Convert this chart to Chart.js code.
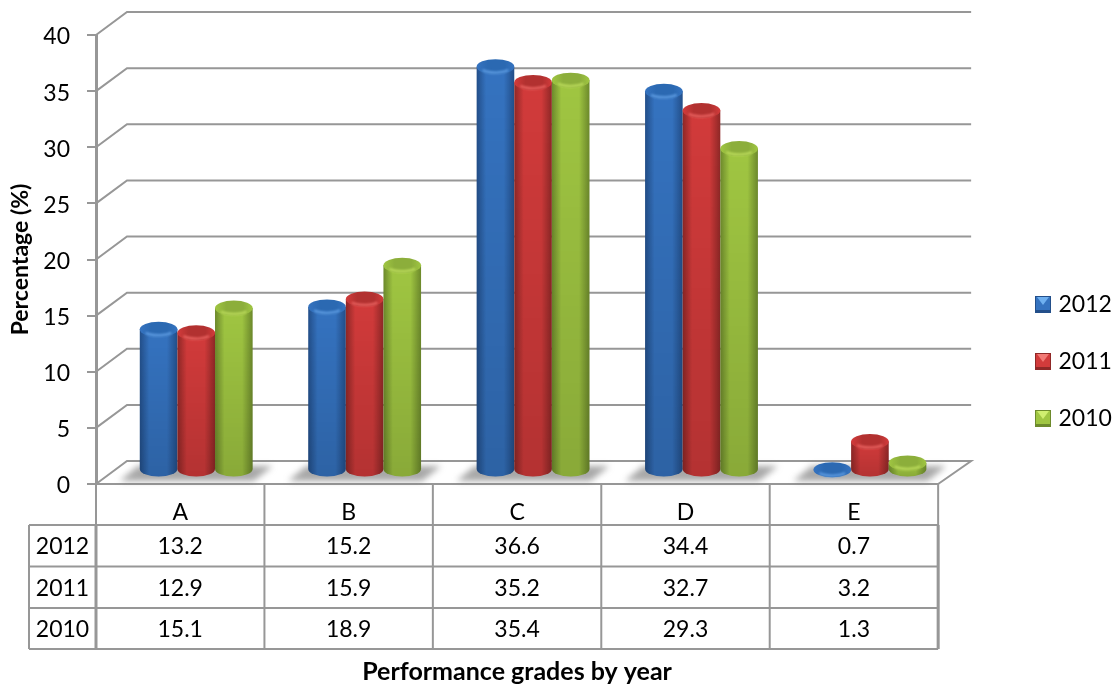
<!DOCTYPE html>
<html>
<head>
<meta charset="utf-8">
<script src="https://cdn.jsdelivr.net/npm/chart.js@4"></script>
<style>
  html, body { margin: 0; padding: 0; background: #fff; }
  #wrap { width: 1113px; height: 684px; }
</style>
</head>
<body>
<div id="wrap"><canvas id="chart" width="1113" height="684"></canvas></div>
<script>
const categories = ["A", "B", "C", "D", "E"];
const years = ["2012", "2011", "2010"];
const values2012 = [13.2, 15.2, 36.6, 34.4, 0.7];
const values2011 = [12.9, 15.9, 35.2, 32.7, 3.2];
const values2010 = [15.1, 18.9, 35.4, 29.3, 1.3];
const tableRows = [values2012, values2011, values2010];

// body edge / body middle / cap / cap rim / swatch light
const palette = [
  { edge: "#234f8a", mid: "#3573c0", cap: "#2b69b2", rim: "#5c9ae0", light: "#6fb0f0" },
  { edge: "#8f2827", mid: "#d23b3b", cap: "#b23130", rim: "#e8605e", light: "#f27a76" },
  { edge: "#6d8a2c", mid: "#a0c642", cap: "#8cae3b", rim: "#bada5a", light: "#d0ee70" },
];

const FONT = "Lato";
const GRID = "#979797";
const DEPTH_X = 31;
const DEPTH_Y = 23;
const BAR_DX = 16;
const BAR_DY = 14;
const CAP_RY = 7.5;
const TABLE_LEFT = 29;
const TABLE_ROWS_Y = [525, 566.5, 608, 649];

function makeSwatch(c) {
  const s = document.createElement("canvas");
  s.width = 16;
  s.height = 17;
  const g = s.getContext("2d");
  g.fillStyle = c.edge;
  g.fillRect(0, 0, 16, 17);
  g.fillStyle = c.mid;
  g.fillRect(1, 1, 14, 13);
  g.fillStyle = c.light;
  g.beginPath();
  g.moveTo(2, 1);
  g.lineTo(14, 1);
  g.lineTo(8, 9);
  g.closePath();
  g.fill();
  return s;
}
const swatches = palette.map(makeSwatch);

function line(ctx, x1, y1, x2, y2) {
  ctx.beginPath();
  ctx.moveTo(x1, y1);
  ctx.lineTo(x2, y2);
  ctx.stroke();
}

function drawWalls(chart) {
  const ctx = chart.ctx;
  const y = chart.scales.y;
  const area = chart.chartArea;
  ctx.save();
  ctx.strokeStyle = GRID;
  ctx.lineWidth = 2;
  y.ticks.forEach((t) => {
    const py = y.getPixelForValue(t.value);
    ctx.beginPath();
    ctx.moveTo(area.left, py);
    ctx.lineTo(area.left + DEPTH_X, py - DEPTH_Y);
    ctx.lineTo(area.right + DEPTH_X + 2, py - DEPTH_Y);
    if (t.value === 0) ctx.lineTo(area.right, py);
    ctx.stroke();
  });
  ctx.restore();
}

function drawShadows(chart) {
  const ctx = chart.ctx;
  const first = chart.getDatasetMeta(0).data;
  const last = chart.getDatasetMeta(2).data;
  const base = chart.scales.y.getPixelForValue(0);
  ctx.save();
  ctx.filter = "blur(3px)";
  ctx.fillStyle = "rgba(110,110,110,0.6)";
  first.forEach((el, i) => {
    const l = el.x + BAR_DX - el.width / 2;
    const r = last[i].x + BAR_DX + last[i].width / 2;
    ctx.beginPath();
    ctx.moveTo(l - 20, base - 3);
    ctx.lineTo(l - 2, base - 18);
    ctx.lineTo(r + 20, base - 18);
    ctx.lineTo(r + 1, base - 3);
    ctx.closePath();
    ctx.fill();
  });
  ctx.restore();
}

function drawCylinder(ctx, el, c) {
  const cx = el.x + BAR_DX;
  const w = el.width / 2;
  const top = el.y - BAR_DY + CAP_RY;
  const bottom = el.base - BAR_DY;

  ctx.save();
  ctx.filter = "blur(0.6px)";
  const g = ctx.createLinearGradient(cx - w, 0, cx + w, 0);
  g.addColorStop(0, c.edge);
  g.addColorStop(0.25, c.mid);
  g.addColorStop(0.72, c.mid);
  g.addColorStop(1, c.edge);
  ctx.fillStyle = g;
  ctx.beginPath();
  ctx.moveTo(cx - w, top);
  ctx.lineTo(cx - w, bottom);
  ctx.ellipse(cx, bottom, w, CAP_RY, 0, Math.PI, 0, true);
  ctx.lineTo(cx + w, top);
  ctx.closePath();
  ctx.fill();

  // darker towards the floor
  const shade = ctx.createLinearGradient(0, top, 0, bottom + CAP_RY);
  shade.addColorStop(0, "rgba(0,0,0,0)");
  shade.addColorStop(1, "rgba(0,0,0,0.14)");
  ctx.fillStyle = shade;
  ctx.fill();

  const capFill = ctx.createLinearGradient(cx - w, 0, cx + w, 0);
  capFill.addColorStop(0, c.mid);
  capFill.addColorStop(0.3, c.cap);
  capFill.addColorStop(0.75, c.cap);
  capFill.addColorStop(1, c.mid);
  ctx.fillStyle = capFill;
  ctx.beginPath();
  ctx.ellipse(cx, top, w, CAP_RY, 0, 0, Math.PI * 2);
  ctx.fill();

  // soft highlight along the front of the cap
  ctx.filter = "blur(1.2px)";
  ctx.strokeStyle = c.rim;
  ctx.lineWidth = 2.5;
  ctx.beginPath();
  ctx.ellipse(cx, top, w - 3, CAP_RY - 1.5, 0, Math.PI * 0.2, Math.PI * 0.8);
  ctx.stroke();
  ctx.restore();
}

function drawTable(chart) {
  const ctx = chart.ctx;
  const x = chart.scales.x;
  const area = chart.chartArea;
  const colW = x.width / categories.length;
  ctx.save();
  ctx.strokeStyle = GRID;
  ctx.lineWidth = 2;
  TABLE_ROWS_Y.forEach((ry) => line(ctx, TABLE_LEFT, ry, area.right, ry));
  line(ctx, TABLE_LEFT, TABLE_ROWS_Y[0], TABLE_LEFT, TABLE_ROWS_Y[3]);
  categories.forEach((c, i) => {
    const lx = area.left + i * colW;
    line(ctx, lx, area.bottom, lx, TABLE_ROWS_Y[3]);
  });
  line(ctx, area.right, area.bottom, area.right, TABLE_ROWS_Y[3]);
  ctx.lineWidth = 3;
  line(ctx, area.left, TABLE_ROWS_Y[0], area.left, TABLE_ROWS_Y[3]);
  line(ctx, area.right, TABLE_ROWS_Y[0], area.right, TABLE_ROWS_Y[3]);

  ctx.fillStyle = "#000";
  ctx.font = "23px " + FONT;
  ctx.textAlign = "center";
  ctx.textBaseline = "middle";
  tableRows.forEach((row, r) => {
    const cy = (TABLE_ROWS_Y[r] + TABLE_ROWS_Y[r + 1]) / 2 + 1;
    ctx.fillText(years[r], (TABLE_LEFT + area.left) / 2, cy);
    row.forEach((v, i) => {
      ctx.fillText(v.toFixed(1), x.getPixelForValue(i), cy);
    });
  });
  ctx.restore();
}

const cylinders = {
  id: "cylinders",
  afterLayout(chart) {
    // legend sits lower and closer to the edge than the default slot
    const legend = chart.legend;
    legend.left = 1005;
    legend.top = 259;
    legend.right = 1113;
    legend.bottom = 684;
  },
  beforeDatasetsDraw(chart) {
    drawWalls(chart);
    drawShadows(chart);
    chart.data.datasets.forEach((d, i) => {
      chart.getDatasetMeta(i).data.forEach((el) => drawCylinder(chart.ctx, el, palette[i]));
    });
    drawTable(chart);
    return false;
  },
};

new Chart(document.getElementById("chart"), {
  type: "bar",
  data: {
    labels: categories,
    datasets: [
      { label: years[0], data: values2012, backgroundColor: palette[0].mid },
      { label: years[1], data: values2011, backgroundColor: palette[1].mid },
      { label: years[2], data: values2010, backgroundColor: palette[2].mid },
    ],
  },
  options: {
    responsive: false,
    animation: false,
    layout: { padding: { top: 35, right: 58, left: 0, bottom: 0 } },
    datasets: { bar: { barPercentage: 1, categoryPercentage: 0.67 } },
    plugins: {
      tooltip: { enabled: false },
      legend: {
        position: "right",
        align: "start",
        labels: {
          color: "#000",
          font: { family: FONT, size: 23 },
          padding: 34,
          usePointStyle: true,
          pointStyleWidth: 8,
          generateLabels: (chart) =>
            chart.data.datasets.map((d, i) => ({
              text: d.label,
              pointStyle: swatches[i],
              fillStyle: d.backgroundColor,
              lineWidth: 0,
              datasetIndex: i,
            })),
        },
      },
    },
    scales: {
      x: {
        afterFit: (s) => { s.height = 200; },
        grid: { display: false },
        border: { color: GRID, width: 2 },
        ticks: { color: "#000", font: { family: FONT, size: 23 }, padding: 7, maxRotation: 0 },
        title: {
          display: true,
          text: "Performance grades by year",
          color: "#000",
          font: { family: FONT, size: 25, weight: "bold", lineHeight: 1 },
          padding: 0,
        },
      },
      y: {
        min: 0,
        max: 40,
        afterFit: (s) => { s.width = 96; },
        grid: { drawOnChartArea: false, color: GRID, lineWidth: 2, tickLength: 9 },
        border: { color: GRID, width: 3 },
        ticks: { stepSize: 5, color: "#000", font: { family: FONT, size: 23 }, padding: 17, labelOffset: 2 },
        title: {
          display: true,
          text: "Percentage (%)",
          color: "#000",
          font: { family: FONT, size: 23, weight: "bold" },
          padding: 7,
        },
      },
    },
  },
  plugins: [cylinders],
});
</script>
</body>
</html>
